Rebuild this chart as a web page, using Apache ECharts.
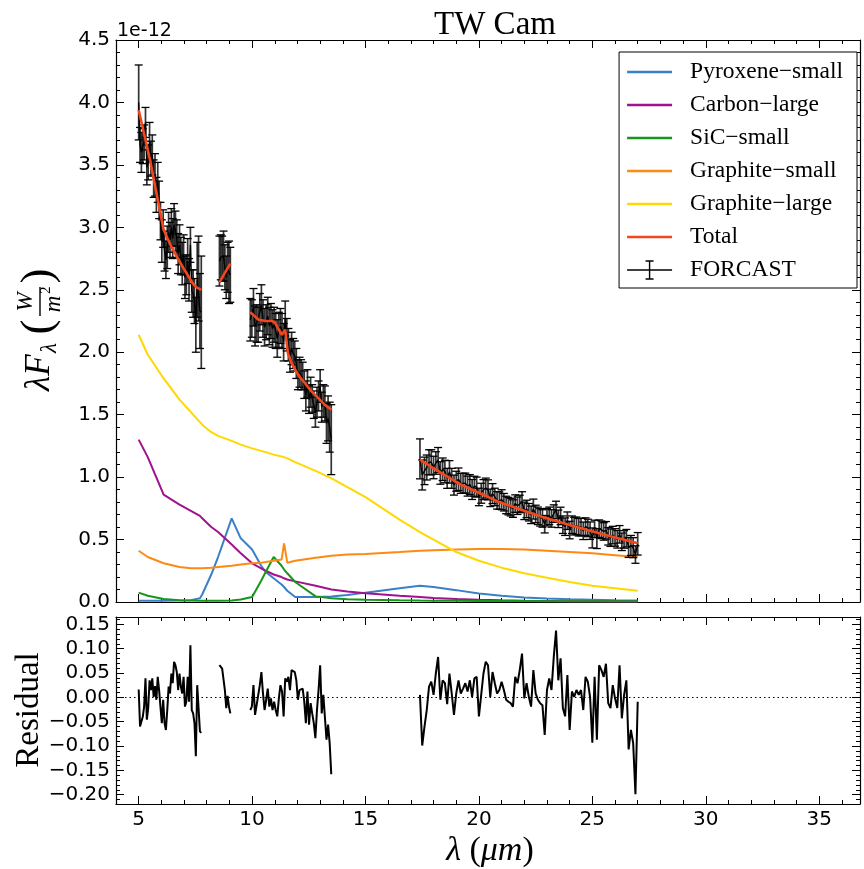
<!DOCTYPE html>
<html>
<head>
<meta charset="utf-8">
<script src="https://cdn.jsdelivr.net/npm/echarts@6/dist/echarts.min.js"></script>
<style>
  html, body { margin: 0; padding: 0; background: #fff; }
  #chart { width: 864px; height: 869px; }
</style>
</head>
<body>
<div id="chart"></div>
<script>
// TW Cam: FORCAST spectrum and dust-model fit. Fluxes in units of 1e-12 W/m^2.

// ---- FORCAST data, four wavelength segments (um) ----
const wave1 = [5.00,5.06,5.12,5.18,5.24,5.30,5.36,5.42,5.48,5.54,5.60,5.66,5.72,5.78,5.84,5.90,5.96,6.02,6.08,6.14,6.20,6.26,6.32,6.38,6.44,6.50,6.56,6.62,6.68,6.74,6.80,6.86,6.92,6.98,7.04,7.10,7.16,7.22,7.28,7.34,7.40,7.46,7.52,7.58,7.64,7.70,7.76];
const flux1 = [4.00,3.66,3.60,3.65,3.68,3.84,3.48,3.52,3.68,3.55,3.58,3.39,3.42,3.26,3.36,3.22,3.05,2.89,2.99,2.81,2.74,2.84,2.96,2.90,3.00,2.91,3.02,2.97,2.91,2.79,2.86,2.77,2.71,2.78,2.60,2.62,2.73,2.58,2.86,2.49,2.47,2.41,2.22,2.58,2.59,2.33,2.32];
const err1 = [0.30,0.14,0.16,0.14,0.14,0.12,0.14,0.14,0.16,0.14,0.16,0.15,0.17,0.14,0.16,0.15,0.15,0.17,0.15,0.16,0.15,0.17,0.16,0.14,0.15,0.16,0.17,0.16,0.15,0.16,0.16,0.15,0.17,0.16,0.17,0.16,0.18,0.17,0.14,0.17,0.19,0.18,0.22,0.30,0.34,0.30,0.45];
const resid1 = [0.016,-0.060,-0.063,-0.040,-0.019,0.039,-0.046,-0.022,0.035,0.015,0.039,0.001,0.023,-0.005,0.042,0.015,-0.019,-0.053,-0.005,-0.053,-0.067,-0.026,0.022,0.008,0.049,0.029,0.073,0.066,0.052,0.015,0.049,0.022,0.008,0.042,-0.019,-0.009,0.042,-0.009,0.107,-0.026,-0.033,-0.053,-0.121,0.025,0.029,-0.070,-0.073];

const wave2 = [8.56,8.62,8.68,8.74,8.80,8.86,8.92,8.98,9.04];
const flux2 = [2.73,2.76,2.75,2.77,2.68,2.60,2.68,2.64,2.62];
const err2 = [0.20,0.18,0.18,0.20,0.18,0.17,0.20,0.25,0.22];
const resid2 = [0.066,0.068,0.059,0.056,0.015,-0.022,0.003,-0.019,-0.033];

const wave3 = [9.92,9.99,10.06,10.13,10.20,10.27,10.34,10.41,10.48,10.55,10.62,10.69,10.76,10.83,10.90,10.97,11.04,11.11,11.18,11.25,11.32,11.39,11.46,11.53,11.60,11.67,11.74,11.81,11.88,11.95,12.02,12.09,12.16,12.23,12.30,12.37,12.44,12.51,12.58,12.65,12.72,12.79,12.86,12.93,13.00,13.07,13.14,13.21,13.28,13.35,13.42,13.49];
const flux3 = [2.26,2.27,2.36,2.21,2.23,2.22,2.32,2.38,2.27,2.20,2.24,2.29,2.21,2.25,2.19,2.22,2.17,2.11,2.18,2.21,2.17,2.08,2.27,2.14,2.06,1.97,2.03,1.99,1.97,1.91,1.82,1.84,1.82,1.81,1.74,1.65,1.75,1.62,1.68,1.63,1.58,1.52,1.60,1.65,1.73,1.56,1.61,1.59,1.43,1.47,1.40,1.30];
const err3 = [0.17,0.15,0.15,0.16,0.15,0.14,0.15,0.16,0.15,0.15,0.14,0.15,0.15,0.14,0.15,0.14,0.14,0.15,0.14,0.14,0.14,0.15,0.14,0.13,0.13,0.13,0.13,0.12,0.12,0.12,0.12,0.12,0.12,0.11,0.11,0.12,0.11,0.11,0.12,0.11,0.11,0.12,0.12,0.12,0.13,0.12,0.13,0.14,0.16,0.18,0.20,0.28];
const resid3 = [-0.026,-0.019,0.025,-0.036,-0.016,-0.019,0.025,0.052,0.008,-0.026,-0.005,0.018,-0.019,-0.002,-0.026,-0.009,-0.026,-0.039,-0.002,0.025,0.012,-0.039,0.039,0.032,0.042,0.015,0.056,0.052,0.052,0.035,-0.005,0.015,0.015,0.018,-0.009,-0.053,0.012,-0.056,-0.012,-0.033,-0.053,-0.084,-0.026,0.015,0.066,-0.033,0.005,0.005,-0.087,-0.056,-0.094,-0.158];

const wave4 = [17.4,17.5,17.6,17.7,17.8,17.9,18.0,18.1,18.2,18.3,18.4,18.5,18.6,18.7,18.8,18.9,19.0,19.1,19.2,19.3,19.4,19.5,19.6,19.7,19.8,19.9,20.0,20.1,20.2,20.3,20.4,20.5,20.6,20.7,20.8,20.9,21.0,21.1,21.2,21.3,21.4,21.5,21.6,21.7,21.8,21.9,22.0,22.1,22.2,22.3,22.4,22.5,22.6,22.7,22.8,22.9,23.0,23.1,23.2,23.3,23.4,23.5,23.6,23.7,23.8,23.9,24.0,24.1,24.2,24.3,24.4,24.5,24.6,24.7,24.8,24.9,25.0,25.1,25.2,25.3,25.4,25.5,25.6,25.7,25.8,25.9,26.0,26.1,26.2,26.3,26.4,26.5,26.6,26.7,26.8,26.9,27.0];
const flux4 = [1.146,1.017,1.050,1.077,1.119,1.119,1.077,1.113,1.137,1.033,1.063,1.045,0.990,1.042,0.990,0.936,0.967,0.983,0.950,0.950,0.952,0.928,0.940,0.901,0.927,0.920,0.841,0.871,0.900,0.912,0.898,0.834,0.868,0.841,0.814,0.812,0.819,0.799,0.777,0.768,0.759,0.748,0.788,0.771,0.785,0.803,0.730,0.745,0.719,0.698,0.744,0.705,0.690,0.678,0.669,0.623,0.679,0.690,0.669,0.708,0.737,0.666,0.689,0.619,0.603,0.651,0.576,0.619,0.607,0.610,0.599,0.600,0.570,0.604,0.593,0.571,0.513,0.585,0.508,0.587,0.578,0.565,0.574,0.526,0.515,0.536,0.517,0.502,0.542,0.482,0.501,0.511,0.437,0.453,0.435,0.380,0.466];
const err4 = [0.16,0.12,0.11,0.10,0.10,0.10,0.09,0.09,0.10,0.09,0.09,0.09,0.08,0.09,0.08,0.08,0.08,0.09,0.08,0.08,0.08,0.08,0.08,0.08,0.08,0.08,0.07,0.08,0.08,0.08,0.08,0.07,0.08,0.07,0.07,0.07,0.08,0.07,0.07,0.07,0.07,0.07,0.07,0.07,0.07,0.08,0.07,0.07,0.07,0.07,0.08,0.07,0.07,0.07,0.07,0.07,0.07,0.07,0.07,0.07,0.07,0.07,0.07,0.07,0.07,0.07,0.07,0.07,0.07,0.07,0.07,0.07,0.07,0.07,0.07,0.07,0.08,0.07,0.08,0.07,0.07,0.07,0.07,0.07,0.07,0.07,0.07,0.07,0.07,0.07,0.07,0.07,0.08,0.08,0.08,0.07,0.09];
const resid4 = [0.005,-0.099,-0.060,-0.026,0.022,0.032,0.005,0.049,0.083,-0.005,0.035,0.029,-0.014,0.049,0.008,-0.036,0.008,0.035,0.008,0.018,0.029,0.012,0.035,0.001,0.039,0.042,-0.039,0.005,0.049,0.073,0.066,0.001,0.052,0.029,0.008,0.015,0.032,0.015,-0.005,-0.009,-0.012,-0.019,0.042,0.029,0.056,0.090,-0.002,0.029,0.001,-0.019,0.056,0.008,-0.005,-0.012,-0.016,-0.077,0.015,0.039,0.015,0.083,0.137,0.035,0.080,-0.022,-0.039,0.046,-0.067,0.012,0.001,0.015,0.005,0.015,-0.026,0.042,0.032,0.001,-0.093,0.042,-0.087,0.066,0.056,0.042,0.069,-0.012,-0.022,0.025,-0.002,-0.022,0.066,-0.043,0.005,0.035,-0.107,-0.067,-0.094,-0.199,-0.009];

// ---- Model components on the model wavelength grid (um) ----
const compWave = [5.0,5.4,6.1,6.8,7.3,7.7,7.8,8.2,8.5,9.1,9.5,10.0,10.4,10.6,10.95,11.3,11.41,11.55,11.9,12.8,13.5,14.2,15.0,16.5,17.4,18.0,19.0,20.0,21.0,22.0,23.0,24.0,25.0,26.0,27.0];
const pyroxeneSmall = [0.010,0.010,0.010,0.012,0.015,0.030,0.060,0.220,0.360,0.670,0.510,0.420,0.290,0.240,0.190,0.140,0.120,0.090,0.040,0.040,0.045,0.056,0.075,0.110,0.130,0.120,0.095,0.068,0.050,0.036,0.028,0.022,0.018,0.014,0.012];
const carbonLarge = [1.30,1.16,0.86,0.78,0.73,0.69,0.67,0.60,0.56,0.46,0.39,0.31,0.27,0.25,0.22,0.20,0.19,0.18,0.165,0.13,0.10,0.085,0.07,0.05,0.04,0.033,0.024,0.018,0.014,0.011,0.009,0.007,0.006,0.005,0.004];
const sicSmall = [0.075,0.050,0.024,0.015,0.012,0.010,0.010,0.010,0.010,0.012,0.020,0.040,0.170,0.240,0.360,0.290,0.260,0.230,0.160,0.045,0.030,0.022,0.018,0.014,0.012,0.011,0.010,0.009,0.008,0.008,0.007,0.007,0.006,0.006,0.006];
const graphiteSmall = [0.41,0.36,0.31,0.28,0.27,0.27,0.27,0.275,0.28,0.29,0.30,0.31,0.315,0.32,0.33,0.34,0.47,0.315,0.33,0.355,0.37,0.38,0.385,0.40,0.41,0.415,0.42,0.425,0.425,0.42,0.41,0.40,0.39,0.375,0.36];
const graphiteLarge = [2.14,1.98,1.79,1.62,1.52,1.44,1.42,1.36,1.33,1.29,1.26,1.23,1.21,1.20,1.18,1.165,1.16,1.15,1.12,1.05,0.99,0.92,0.84,0.66,0.56,0.50,0.40,0.33,0.275,0.23,0.195,0.16,0.13,0.11,0.09];

// ---- Total model, drawn over each observed segment ----
const totalWave1 = [5.0,5.25,5.5,5.8,6.1,6.4,6.76,7.05,7.35,7.55,7.76];
const total1 = [3.94,3.74,3.54,3.26,2.98,2.86,2.74,2.65,2.56,2.52,2.50];
const totalWave2 = [8.56,8.8,9.04];
const total2 = [2.56,2.635,2.71];
const totalWave3 = [9.92,10.1,10.29,10.6,10.87,11.0,11.15,11.31,11.46,11.58,11.75,11.9,12.1,12.34,12.6,12.93,13.2,13.5];
const total3 = [2.32,2.29,2.26,2.25,2.25,2.24,2.19,2.14,2.18,1.99,1.91,1.86,1.80,1.75,1.69,1.63,1.58,1.54];
const totalWave4 = [17.4,18.0,18.5,19.1,20.0,20.9,21.8,22.8,23.7,24.7,25.8,27.0];
const total4 = [1.14,1.07,1.016,0.95,0.875,0.80,0.743,0.68,0.633,0.58,0.527,0.47];

// ---- Axis ticks ----
const xTicks = [5, 10, 15, 20, 25, 30, 35];
const fluxTicks = [0.0, 0.5, 1.0, 1.5, 2.0, 2.5, 3.0, 3.5, 4.0, 4.5];
const residTicks = [-0.20, -0.15, -0.10, -0.05, 0.00, 0.05, 0.10, 0.15];
const X_MIN = 4, X_MAX = 36.8;
const FLUX_MIN = 0, FLUX_MAX = 4.5;
const RES_MIN = -0.219, RES_MAX = 0.165;

const SERIF = '"Liberation Serif", serif';
const SANS = '"DejaVu Sans", sans-serif';

// minor tick positions between the major ones
function minorTicks(lo, hi, step, every) {
  const out = [];
  for (let k = Math.ceil(lo / step - 1e-9); k * step <= hi + 1e-9; k++) {
    if (k % every !== 0) out.push(Math.round(k * step * 1e6) / 1e6);
  }
  return out;
}
const xMinor = minorTicks(X_MIN, X_MAX, 1, 5);
const fluxMinor = minorTicks(FLUX_MIN, FLUX_MAX, 0.1, 5);
const residMinor = minorTicks(RES_MIN, RES_MAX, 0.01, 5);

const segs = [
  [wave1, flux1, err1, resid1],
  [wave2, flux2, err2, resid2],
  [wave3, flux3, err3, resid3],
  [wave4, flux4, err4, resid4]
];
const totals = [[totalWave1, total1], [totalWave2, total2], [totalWave3, total3], [totalWave4, total4]];

// Join segments into one polyline with breaks in between
function joined(list, yIndex) {
  const out = [];
  list.forEach((s, n) => {
    if (n > 0) out.push([s[0][0] - 0.01, '-']);
    s[0].forEach((w, i) => out.push([w, s[yIndex][i]]));
  });
  return out;
}
const fluxLine = joined(segs, 1);
const residLine = joined(segs, 3);
const totalLine = joined(totals, 1);
const errBars = [];
segs.forEach(s => s[0].forEach((w, i) => {
  errBars.push([w, +(s[1][i] - s[2][i]).toFixed(4), +(s[1][i] + s[2][i]).toFixed(4)]);
}));

function fmtFlux(v) { return v.toFixed(1); }
function fmtResid(v) {
  const s = Math.abs(v).toFixed(2);
  return (v < -1e-9 ? '\u2212' : '') + s;
}

function makeAxis(grid, pos, min, max, ticks, len, showLine, labelFmt) {
  return {
    type: 'value', gridIndex: grid, position: pos, min: min, max: max,
    axisLine: { show: showLine, onZero: false, lineStyle: { color: '#000', width: 1.2 } },
    axisTick: { show: true, inside: true, length: len, customValues: ticks, lineStyle: { color: '#000', width: 1 } },
    axisLabel: {
      show: !!labelFmt, customValues: ticks, formatter: labelFmt || undefined,
      fontFamily: SANS, fontSize: 20, color: '#000', margin: 6
    },
    splitLine: { show: false },
    minorTick: { show: false },
    minorSplitLine: { show: false },
    axisPointer: { show: false }
  };
}

const xAxes = [
  makeAxis(0, 'bottom', X_MIN, X_MAX, xTicks, 8, true, null),
  makeAxis(0, 'bottom', X_MIN, X_MAX, xMinor, 4, false, null),
  makeAxis(0, 'top', X_MIN, X_MAX, xTicks, 8, true, null),
  makeAxis(0, 'top', X_MIN, X_MAX, xMinor, 4, false, null),
  makeAxis(1, 'bottom', X_MIN, X_MAX, xTicks, 8, true, v => String(v)),
  makeAxis(1, 'bottom', X_MIN, X_MAX, xMinor, 4, false, null),
  makeAxis(1, 'top', X_MIN, X_MAX, xTicks, 8, true, null),
  makeAxis(1, 'top', X_MIN, X_MAX, xMinor, 4, false, null)
];
const yAxes = [
  makeAxis(0, 'left', FLUX_MIN, FLUX_MAX, fluxTicks, 8, true, fmtFlux),
  makeAxis(0, 'left', FLUX_MIN, FLUX_MAX, fluxMinor, 4, false, null),
  makeAxis(0, 'right', FLUX_MIN, FLUX_MAX, fluxTicks, 8, true, null),
  makeAxis(0, 'right', FLUX_MIN, FLUX_MAX, fluxMinor, 4, false, null),
  makeAxis(1, 'left', RES_MIN, RES_MAX, residTicks, 8, true, fmtResid),
  makeAxis(1, 'left', RES_MIN, RES_MAX, residMinor, 4, false, null),
  makeAxis(1, 'right', RES_MIN, RES_MAX, residTicks, 8, true, null),
  makeAxis(1, 'right', RES_MIN, RES_MAX, residMinor, 4, false, null)
];

const components = [
  ['Pyroxene\u2212small', pyroxeneSmall, '#3a80c6'],
  ['Carbon\u2212large', carbonLarge, '#a0128e'],
  ['SiC\u2212small', sicSmall, '#16961a'],
  ['Graphite\u2212small', graphiteSmall, '#fd8a12'],
  ['Graphite\u2212large', graphiteLarge, '#ffd800']
];
const TOTAL_COLOR = '#f4461c';

const series = components.map(([name, vals, color]) => ({
  name: name, type: 'line', xAxisIndex: 0, yAxisIndex: 0,
  data: compWave.map((w, i) => [w, vals[i]]),
  symbol: 'none', showSymbol: false, color: color,
  lineStyle: { color: color, width: 2 }, z: 2, silent: true
}));

series.push({
  name: 'FORCAST', type: 'custom', xAxisIndex: 0, yAxisIndex: 0,
  data: errBars, encode: { x: 0, y: [1, 2] }, color: '#000', z: 3, silent: true,
  renderItem: function (params, api) {
    const x = api.value(0);
    const lo = api.coord([x, api.value(1)]);
    const hi = api.coord([x, api.value(2)]);
    const cw = 4;
    return {
      type: 'group',
      children: [
        { type: 'line', shape: { x1: lo[0], y1: lo[1], x2: hi[0], y2: hi[1] }, style: { stroke: 'rgba(0,0,0,0.8)', lineWidth: 1.7 } },
        { type: 'line', shape: { x1: lo[0] - cw, y1: lo[1], x2: lo[0] + cw, y2: lo[1] }, style: { stroke: '#000', lineWidth: 1.3 } },
        { type: 'line', shape: { x1: hi[0] - cw, y1: hi[1], x2: hi[0] + cw, y2: hi[1] }, style: { stroke: '#000', lineWidth: 1.3 } }
      ]
    };
  }
});
series.push({
  name: 'FORCAST', type: 'line', xAxisIndex: 0, yAxisIndex: 0,
  data: fluxLine, symbol: 'none', showSymbol: false, connectNulls: false,
  color: '#000', lineStyle: { color: '#000', width: 1.4 }, z: 3, silent: true
});
series.push({
  name: 'Total', type: 'line', xAxisIndex: 0, yAxisIndex: 0,
  data: totalLine, symbol: 'none', showSymbol: false, connectNulls: false,
  color: TOTAL_COLOR, lineStyle: { color: TOTAL_COLOR, width: 2.6 }, z: 4, silent: true
});
series.push({
  name: 'Residual', type: 'line', xAxisIndex: 4, yAxisIndex: 4,
  data: residLine, symbol: 'none', showSymbol: false, connectNulls: false,
  color: '#000', lineStyle: { color: '#000', width: 2 }, z: 3, silent: true,
  markLine: {
    silent: true, symbol: 'none', animation: false,
    label: { show: false },
    lineStyle: { color: '#000', width: 1, type: [1.5, 3] },
    data: [{ yAxis: 0 }]
  }
});

const lineIcon = 'path://M0,0H45V2.4H0Z';
const errIcon = 'path://M0,9.3H45V10.7H0Z M21.8,1H23.2V19H21.8Z M18.5,0.3H26.5V1.7H18.5Z M18.5,18.3H26.5V19.7H18.5Z';

const option = {
  animation: false,
  backgroundColor: '#fff',
  title: {
    text: 'TW Cam', left: 490, top: 4, textAlign: 'center',
    textStyle: { fontFamily: SERIF, fontSize: 33, fontWeight: 'normal', color: '#000' }
  },
  grid: [
    { left: 116, top: 40, width: 744, height: 562, outerBoundsMode: 'none', containLabel: false },
    { left: 116, top: 617, width: 744, height: 187, outerBoundsMode: 'none', containLabel: false }
  ],
  xAxis: xAxes,
  yAxis: yAxes,
  legend: {
    orient: 'vertical', right: 7, top: 52,
    backgroundColor: '#fff', borderColor: '#000', borderWidth: 1, borderRadius: 0,
    padding: [8, 14, 6, 8],
    itemWidth: 45, itemHeight: 20, itemGap: 9,
    selectedMode: false,
    textStyle: { fontFamily: SERIF, fontSize: 23.5, color: '#000', padding: [0, 0, 0, 13] },
    data: [
      { name: 'Pyroxene\u2212small', icon: lineIcon },
      { name: 'Carbon\u2212large', icon: lineIcon },
      { name: 'SiC\u2212small', icon: lineIcon },
      { name: 'Graphite\u2212small', icon: lineIcon },
      { name: 'Graphite\u2212large', icon: lineIcon },
      { name: 'Total', icon: lineIcon },
      { name: 'FORCAST', icon: errIcon, itemStyle: { color: '#000', opacity: 1 } }
    ]
  },
  graphic: [
    // scale factor of the flux axis
    { type: 'text', left: 117, top: 22, style: { text: '1e-12', font: '19px ' + SANS, fill: '#000' } },
    // y-axis label of the flux panel: λF_λ (W / m²)
    {
      type: 'group', x: 40, y: 321, rotation: Math.PI / 2,
      children: [
        { type: 'text', x: -70, y: 0, style: { text: '\u03bbF', font: 'italic 35px ' + SERIF, fill: '#000', align: 'left', verticalAlign: 'middle' } },
        { type: 'text', x: -32, y: 10, style: { text: '\u03bb', font: 'italic 23px ' + SERIF, fill: '#000', align: 'left', verticalAlign: 'middle' } },
        { type: 'text', x: -6, y: -1, style: { text: '(', font: '45px ' + SERIF, fill: '#000', align: 'center', verticalAlign: 'middle' } },
        { type: 'text', x: 19, y: -14, style: { text: 'W', font: 'italic 23px ' + SERIF, fill: '#000', align: 'center', verticalAlign: 'middle' } },
        { type: 'line', shape: { x1: 5, y1: 0, x2: 34, y2: 0 }, style: { stroke: '#000', lineWidth: 1.4 } },
        { type: 'text', x: 17, y: 14, style: { text: 'm', font: 'italic 23px ' + SERIF, fill: '#000', align: 'center', verticalAlign: 'middle' } },
        { type: 'text', x: 27, y: 6, style: { text: '2', font: '15px ' + SERIF, fill: '#000', align: 'left', verticalAlign: 'middle' } },
        { type: 'text', x: 45, y: -1, style: { text: ')', font: '45px ' + SERIF, fill: '#000', align: 'center', verticalAlign: 'middle' } }
      ]
    },
    // y-axis label of the residual panel
    {
      type: 'text', x: 29, y: 710, rotation: Math.PI / 2,
      style: { text: 'Residual', font: '33px ' + SERIF, fill: '#000', align: 'center', verticalAlign: 'middle' }
    },
    // x-axis label: λ (μm)
    {
      type: 'text', x: 490, y: 851,
      style: {
        text: '{i|\u03bb} ({i|\u03bcm})', font: '34px ' + SERIF, fill: '#000',
        align: 'center', verticalAlign: 'middle',
        rich: { i: { font: 'italic 34px ' + SERIF, fill: '#000' } }
      }
    }
  ],
  series: series
};

const chart = echarts.init(document.getElementById('chart'), null, { renderer: 'canvas' });
chart.setOption(option);
</script>
</body>
</html>
